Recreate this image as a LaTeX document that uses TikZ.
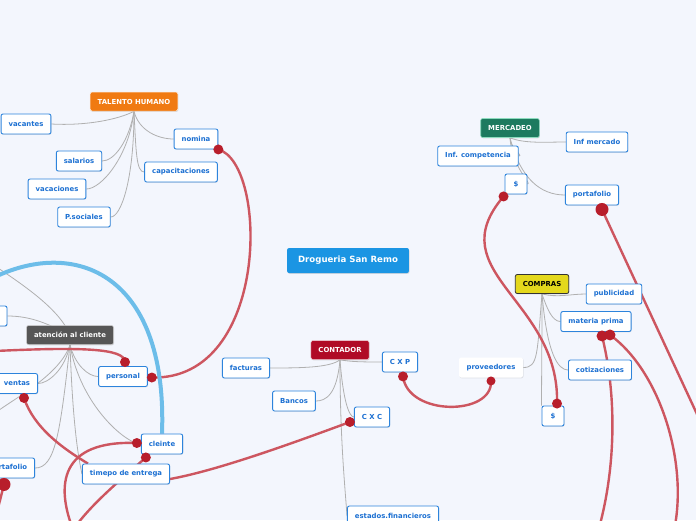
\documentclass[tikz,border=0pt]{standalone}
\usepackage{fontspec}
\setsansfont{DejaVu Sans}
\usetikzlibrary{shadows, backgrounds}
\definecolor{cBack}{RGB}{243, 246, 253}
\definecolor{cRoot}{RGB}{27, 149, 227}
\definecolor{cTalento}{RGB}{240, 122, 18}
\definecolor{cMercadeo}{RGB}{29, 122, 95}
\definecolor{bMercadeo}{RGB}{140, 220, 190}
\definecolor{cCompras}{RGB}{228, 216, 28}
\definecolor{cContador}{RGB}{176, 11, 38}
\definecolor{cAtencion}{RGB}{86, 86, 86}
\definecolor{bLeaf}{RGB}{45, 132, 220}
\definecolor{tLeaf}{RGB}{28, 112, 210}
\definecolor{cLink}{RGB}{176, 176, 176}
\definecolor{cRel}{RGB}{205, 86, 96}
\definecolor{cDot}{RGB}{184, 30, 43}
\definecolor{cArc}{RGB}{108, 189, 233}

\begin{document}
\begin{tikzpicture}[
    x=1pt, y=-1pt,
    font=\sffamily\bfseries\fontsize{6.9}{8}\selectfont,
    leaf/.style={
        draw=bLeaf,
        fill=white,
        text=tLeaf,
        line width=0.9pt,
        rounded corners=2pt,
        inner xsep=7.5pt,
        inner ysep=0pt,
        minimum height=20pt,
        minimum width=22pt,
        drop shadow={opacity=0.18, shadow xshift=0.6pt, shadow yshift=-0.8pt}
    },
    topic/.style={
        fill=#1,
        text=white,
        rounded corners=2pt,
        inner xsep=7.5pt,
        inner ysep=0pt,
        minimum height=19pt,
        drop shadow={opacity=0.25, shadow xshift=0.6pt, shadow yshift=-0.8pt}
    },
    link/.style={draw=cLink, line width=0.8pt},
    rel/.style={draw=cRel, line width=2.4pt},
    arc/.style={draw=cArc, line width=4pt}
]

\useasboundingbox (0,0) rectangle (696,520);
\begin{scope}[on background layer]
    \fill[cBack] (0,0) rectangle (696,520);
\end{scope}

% root
\node[topic=cRoot, minimum height=25pt, inner xsep=11pt,
      font=\sffamily\bfseries\fontsize{8.6}{10}\selectfont] (root) at (348,260.5) {Drogueria San Remo};

% talento humano
\node[topic=cTalento, draw=white!85!cTalento, line width=0.5pt] (th) at (134,101.5) {TALENTO HUMANO};
\node[leaf] (vac) at (26,124) {vacantes};
\node[leaf] (nom) at (196,139) {nomina};
\node[leaf] (sal) at (79,161) {salarios};
\node[leaf] (cap) at (181,172) {capacitaciones};
\node[leaf] (vca) at (57,189) {vacaciones};
\node[leaf] (pso) at (84,217) {P.sociales};

% mercadeo
\node[topic=cMercadeo, draw=bMercadeo, line width=0.6pt] (mer) at (510,128) {MERCADEO};
\node[leaf] (infm) at (597,142) {Inf mercado};
\node[leaf] (infc) at (478,156) {Inf. competencia};
\node[leaf] (dolm) at (516,184) {\$};
\node[leaf] (portm) at (592,195) {portafolio};

% compras
\node[topic=cCompras, text=black, draw=black!80, line width=0.8pt] (com) at (542,284) {COMPRAS};
\node[leaf] (pub) at (614,294) {publicidad};
\node[leaf] (mat) at (596,321.5) {materia prima};
\node[leaf, draw=none] (prov) at (491,367.5) {proveedores};
\node[leaf] (cot) at (600,370) {cotizaciones};
\node[leaf] (dolc) at (553,416) {\$};

% contador
\node[topic=cContador, draw=white!80!cContador, line width=0.5pt] (con) at (340,350) {CONTADOR};
\node[leaf] (fac) at (246,368) {facturas};
\node[leaf] (cxp) at (400,362) {C X P};
\node[leaf] (ban) at (294,401) {Bancos};
\node[leaf] (cxc) at (372,417) {C X C};
\node[leaf] (est) at (393,516) {estados.financieros};

% atencion al cliente
\node[topic=cAtencion, draw=white!70!cAtencion, line width=0.5pt] (ate) at (70,335) {atención al cliente};
\node[leaf] (lb) at (-4,316) {};
\node[leaf] (per) at (123,376.5) {personal};
\node[leaf] (ven) at (17,383.5) {ventas};
\node[leaf] (cle) at (162,444) {cleinte};
\node[leaf] (tim) at (126,474) {timepo de entrega};
\node[leaf] (ptl) at (8,468) {portafolio};

% ends of the relations
\coordinate (rNom) at (nom.south east);
\coordinate (rPer) at ([shift={(4,1)}]per.east);
\coordinate (rPerTop) at ([shift={(2,-4)}]per.north);
\coordinate (rDolM) at ([shift={(-1,2)}]dolm.south west);
\coordinate (rDolC) at ([shift={(4,-2)}]dolc.north);
\coordinate (rPort) at ([shift={(10,4)}]portm.south);
\coordinate (rMatA) at ([shift={(6,4)}]mat.south);
\coordinate (rMatB) at ([shift={(14,3)}]mat.south);
\coordinate (rCxp) at ([shift={(3,4)}]cxp.south);
\coordinate (rProv) at ([shift={(0,3)}]prov.south);
\coordinate (rCxc) at ([shift={(-4,5)}]cxc.west);
\coordinate (rVen) at ([shift={(7,4)}]ven.south);
\coordinate (rPtl) at ([shift={(-4,6)}]ptl.south);
\coordinate (rCleA) at ([shift={(-4,-1)}]cle.west);
\coordinate (rCleB) at ([shift={(5,3)}]cle.south west);
% free ends outside the frame
\coordinate (oPort) at (722,468);
\coordinate (oMatA) at (597,535);
\coordinate (oMatB) at (673,535);
\coordinate (oRel) at (-5,351);
\coordinate (oPtl) at (-8,532);
\coordinate (oCleA) at (74,532);
\coordinate (oCleB) at (72,532);
\coordinate (oArc) at (-15,282);
\coordinate (oAteA) at (-5,266);
\coordinate (oAteB) at (-5,413);

\begin{scope}[on background layer]
    % branches
    \draw[link] (th.south) .. controls +(-15,8) and +(35,2) .. (vac.east);
    \draw[link] (th.south) .. controls +(-5,30) and +(12,0) .. (sal.east);
    \draw[link] (th.south) .. controls +(-5,45) and +(15,0) .. (vca.east);
    \draw[link] (th.south) .. controls +(0,70) and +(10,0) .. (pso.east);
    \draw[link] (th.south) .. controls +(5,20) and +(-15,0) .. (nom.west);
    \draw[link] (th.south) .. controls +(2,40) and +(-8,0) .. (cap.west);

    \draw[link] (mer.south) .. controls +(15,6) and +(-20,0) .. (infm.west);
    \draw[link] (mer.south) .. controls +(0,10) and +(5,0) .. (infc.east);
    \draw[link] (mer.south) .. controls +(2,30) and +(5,0) .. (dolm.east);
    \draw[link] (mer.south) .. controls +(10,40) and +(-25,0) .. (portm.west);

    \draw[link] (com.south) .. controls +(15,4) and +(-15,0) .. (pub.west);
    \draw[link] (com.south) .. controls +(5,15) and +(-8,0) .. (mat.west);
    \draw[link] (com.south) .. controls +(-5,60) and +(15,0) .. (prov.east);
    \draw[link] (com.south) .. controls +(5,60) and +(-10,0) .. (cot.west);
    \draw[link] (com.south) .. controls +(0,60) and +(0,-40) .. (dolc.north west);

    \draw[link] (con.south) .. controls +(-10,8) and +(30,0) .. (fac.east);
    \draw[link] (con.south) .. controls +(10,2) and +(-20,0) .. (cxp.west);
    \draw[link] (con.south) .. controls +(-3,35) and +(10,0) .. (ban.east);
    \draw[link] (con.south) .. controls +(3,40) and +(-5,0) .. (cxc.west);
    \draw[link] (con.south) .. controls +(0,80) and +(-2,-30) .. (est.west);

    \draw[link] (ate.center) .. controls +(-20,-10) and +(25,0) .. (lb.east);
    \draw[link] (ate.center) .. controls +(-10,-25) and +(30,20) .. (oAteA);
    \draw[link] (ate.south) .. controls +(5,20) and +(-10,0) .. (per.west);
    \draw[link] (ate.south) .. controls +(-5,25) and +(10,0) .. (ven.east);
    \draw[link] (ate.south) .. controls +(-10,30) and +(20,-15) .. (oAteB);
    \draw[link] (ate.south) .. controls +(10,60) and +(-15,0) .. (cle.west);
    \draw[link] (ate.south) .. controls +(3,90) and +(-2,-10) .. (tim.west);
    \draw[link] (ate.south) .. controls +(-10,90) and +(20,0) .. (ptl.east);

    % relations
    \draw[rel] (rNom) .. controls +(50,14) and +(118,3) .. (rPer);
    \draw[rel] (rDolM) .. controls +(-65,76) and +(3,-104) .. (rDolC);
    \draw[rel] (rPort) -- (oPort);
    \draw[rel] (rMatA) .. controls +(16,64) and +(18,-60) .. (oMatA);
    \draw[rel] (rMatB) .. controls +(50,36) and +(17,-70) .. (oMatB);
    \draw[rel] (rCxp) .. controls +(5,40) and +(2,35) .. (rProv);
    \draw[rel] (rCxc) .. controls +(-49,18) and +(50,-9) .. ([shift={(0,5)}]tim.east);
    \draw[rel] (oRel) .. controls +(85,-4) and +(0,-14) .. (rPerTop);
    \draw[rel] (rVen) .. controls +(10,30) and +(-25,-15) .. ([shift={(6,0)}]tim.north west);
    \draw[rel] (rPtl) -- (oPtl);
    \draw[rel] (rCleA) .. controls +(-77,-3) and +(-19,-47) .. (oCleA);
    \draw[rel] (rCleB) .. controls +(-20,18) and +(15,-25) .. (oCleB);

    \draw[arc] (cle.north) .. controls +(6,-164) and +(85,-47) .. (oArc);
\end{scope}

% relation ends
\fill[cDot] (rNom) circle (5pt) (rPer) circle (5pt) (rPerTop) circle (5pt)
    (rDolM) circle (5pt) (rDolC) circle (5pt) (rPort) circle (6.5pt)
    (rMatA) circle (5.5pt) (rMatB) circle (5.5pt) (rCxp) circle (5pt)
    (rProv) circle (4.5pt) (rCxc) circle (5pt) (rVen) circle (5pt)
    (rPtl) circle (6.5pt) (rCleA) circle (5pt) (rCleB) circle (5pt);

\end{tikzpicture}
\end{document}
